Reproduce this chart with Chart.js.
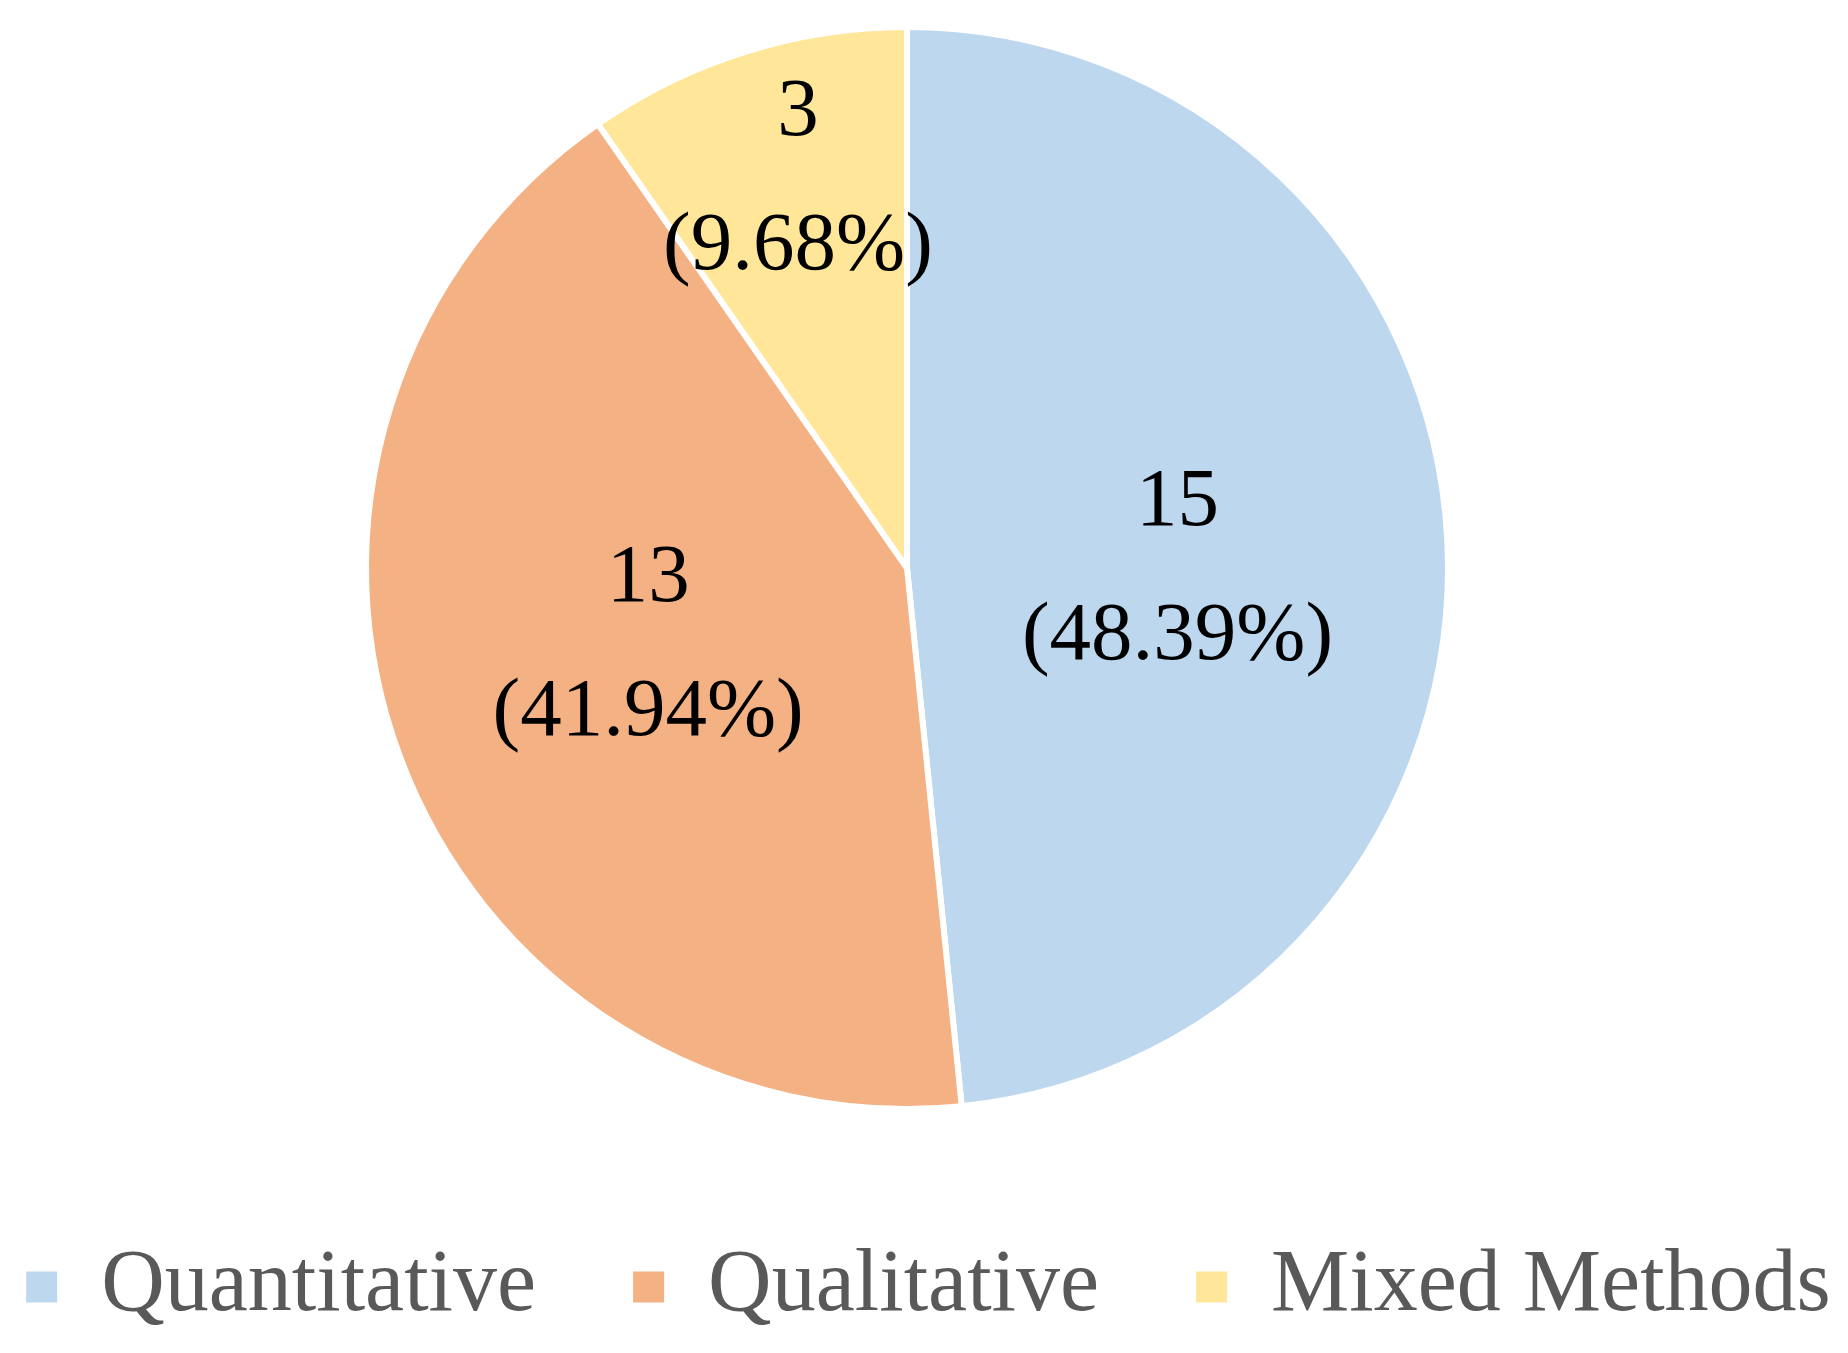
<!DOCTYPE html>
<html>
<head>
<meta charset="utf-8">
<script src="https://cdn.jsdelivr.net/npm/chart.js@4.4.0/dist/chart.umd.min.js"></script>
<style>
  html, body { margin: 0; padding: 0; background: #fff; }
</style>
</head>
<body>
<canvas id="myChart" width="1848" height="1353"></canvas>
<script>
var categories = ['Quantitative', 'Qualitative', 'Mixed Methods'];
var counts = [15, 13, 3];
var sliceColors = ['#BDD7EE', '#F4B183', '#FFE699'];

function percentOf(i) {
  var total = counts.reduce(function(a, b) { return a + b; }, 0);
  return (counts[i] / total * 100).toFixed(2) + '%';
}

// count + percentage written inside each slice
var sliceLabels = {
  id: 'sliceLabels',
  afterDatasetsDraw: function(chart, args, opts) {
    var ctx = chart.ctx;
    chart.getDatasetMeta(0).data.forEach(function(arc, i) {
      var p = arc.getProps(['x', 'y', 'startAngle', 'endAngle', 'outerRadius'], true);
      var mid = (p.startAngle + p.endAngle) / 2 + opts.shift[i];
      var r = p.outerRadius * opts.radius[i];
      var cx = p.x + Math.cos(mid) * r;
      var cy = p.y + Math.sin(mid) * r;
      ctx.save();
      ctx.font = opts.size + 'px "Liberation Serif"';
      ctx.fillStyle = '#000';
      ctx.textAlign = 'center';
      ctx.textBaseline = 'middle';
      ctx.fillText(String(counts[i]), cx, cy - opts.lineGap / 2);
      ctx.fillText('(' + percentOf(i) + ')', cx, cy + opts.lineGap / 2);
      ctx.restore();
    });
  }
};

// keep the legend on one wide row, pull the pie up a little
var legendSpread = {
  id: 'legendSpread',
  afterInit: function(chart) {
    var lg = chart.legend;
    if (!lg) return;
    var fit = lg.fit;
    lg.fit = function() {
      var w = this.maxWidth;
      this.maxWidth = 10000;
      fit.call(this);
      this.maxWidth = w;
      this.width = w;
    };
  },
  afterLayout: function(chart) {
    var lg = chart.legend;
    if (lg) {
      lg.left = -100;
      lg.right = 1957;
    }
    var area = chart.chartArea;
    area.top -= 10;
    area.height += 10;
  }
};

var ctx = document.getElementById('myChart').getContext('2d');
var myChart = new Chart(ctx, {
  type: 'pie',
  data: {
    labels: categories,
    datasets: [{
      data: counts,
      backgroundColor: sliceColors,
      borderColor: '#ffffff',
      borderWidth: 6,
      hoverOffset: 0
    }]
  },
  options: {
    responsive: false,
    animation: false,
    devicePixelRatio: 1,
    events: [],
    radius: 541,
    layout: { padding: { top: 0, right: 34, bottom: 12, left: 0 } },
    plugins: {
      tooltip: { enabled: false },
      legend: {
        position: 'bottom',
        labels: {
          boxWidth: 31,
          boxHeight: 31,
          padding: 97,
          color: '#595959',
          font: { family: 'Liberation Serif', size: 88 },
          generateLabels: function(chart) {
            var base = (Chart.overrides.pie || Chart.overrides.doughnut).plugins.legend.labels.generateLabels;
            var items = base(chart);
            items.forEach(function(it) { it.lineWidth = 0; });
            return items;
          }
        }
      },
      sliceLabels: { radius: [0.5, 0.5, 0.745], shift: [0.06, 0.06, 0.03], lineGap: 134, size: 83 }
    }
  },
  plugins: [sliceLabels, legendSpread]
});
</script>
</body>
</html>
